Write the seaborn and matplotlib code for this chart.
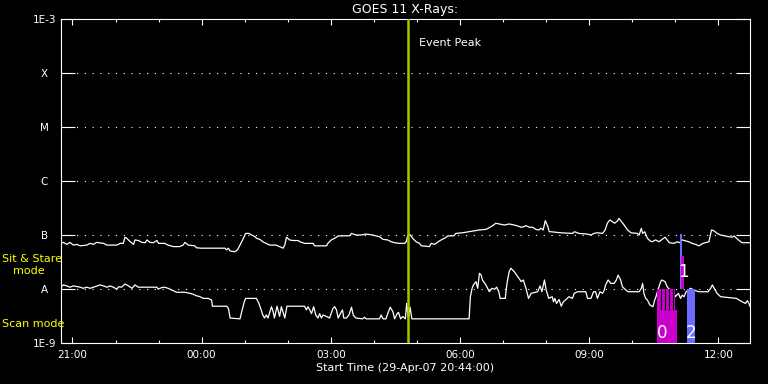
import numpy as np
import matplotlib
matplotlib.use("Agg")
import matplotlib.pyplot as plt
import seaborn as sns

# --- GOES 11 X-ray flux ---
# times are hours since 29-Apr-07 00:00, flux in units of 1e-8 W/m^2
t_long = [20.73, 20.79, 20.87, 20.94, 21.02, 21.10, 21.18, 21.33, 21.41, 21.49,
          21.56, 21.72, 21.80, 22.03, 22.11, 22.18, 22.22, 22.26, 22.34, 22.42,
          22.45, 22.53, 22.61, 22.69, 22.73, 22.80, 22.88, 22.96, 23.00, 23.14,
          23.22, 23.34, 23.49, 23.57, 23.61, 23.69, 23.84, 23.88, 23.99, 24.54,
          24.58, 24.62, 24.66, 24.77, 24.83, 24.89, 24.97, 25.02, 25.10, 25.16,
          25.24, 25.27, 25.35, 25.42, 25.50, 25.58, 25.73, 25.81, 25.89, 25.93,
          25.97, 26.04, 26.12, 26.24, 26.28, 26.39, 26.59, 26.62, 26.90, 26.93,
          27.01, 27.09, 27.17, 27.44, 27.48, 27.58, 27.70, 27.82, 27.97, 28.05,
          28.13, 28.21, 28.32, 28.40, 28.48, 28.59, 28.71, 28.75, 28.79, 28.83,
          28.90, 28.98, 29.06, 29.10, 29.29, 29.33, 29.41, 29.49, 29.56, 29.64,
          29.72, 29.86, 29.90, 30.06, 30.21, 30.33, 30.45, 30.60, 30.68, 30.76,
          30.83, 30.91, 31.03, 31.14, 31.26, 31.34, 31.42, 31.49, 31.53, 31.61,
          31.69, 31.76, 31.83, 31.88, 31.93, 31.98, 32.04, 32.07, 32.11, 32.34,
          32.61, 32.66, 32.76, 32.96, 33.04, 33.11, 33.19, 33.31, 33.37, 33.42,
          33.48, 33.54, 33.59, 33.66, 33.69, 33.75, 33.81, 33.89, 33.97, 34.12,
          34.16, 34.21, 34.24, 34.29, 34.35, 34.42, 34.46, 34.54, 34.62, 34.76,
          34.81, 34.86, 34.97, 35.04, 35.10, 35.16, 35.31, 35.39, 35.47, 35.55,
          35.64, 35.70, 35.78, 35.84, 35.90, 35.97, 36.05, 36.13, 36.24, 36.32,
          36.36, 36.42, 36.48, 36.55, 36.73]
long_flux = [7.0, 7.3, 6.7, 7.3, 6.5, 6.7, 6.3, 6.5, 7.0, 6.7,
             7.3, 7.0, 6.5, 6.5, 7.0, 7.0, 9.1, 8.7, 7.5, 6.7,
             8.1, 7.9, 7.3, 7.2, 8.1, 7.3, 7.2, 7.9, 7.0, 7.0,
             6.5, 6.1, 6.1, 6.5, 7.3, 6.5, 6.3, 5.8, 5.7, 5.7,
             5.3, 5.7, 5.05, 4.9, 5.3, 6.5, 8.7, 10.7, 10.7, 10.0,
             9.3, 8.7, 8.3, 7.5, 7.0, 6.5, 6.5, 6.1, 5.7, 6.5,
             9.1, 8.1, 7.9, 7.9, 7.5, 7.0, 7.0, 6.3, 6.3, 7.0,
             8.1, 8.7, 9.6, 9.7, 10.7, 10.0, 10.0, 10.4, 10.0, 9.6,
             9.3, 8.3, 8.1, 7.5, 7.2, 7.0, 7.0, 7.5, 10.0, 10.3,
             8.7, 7.5, 7.0, 6.3, 6.1, 7.0, 6.7, 7.5, 8.1, 8.7,
             9.6, 9.7, 10.7, 11.0, 11.5, 11.9, 12.4, 12.7, 13.7, 14.9,
             16.5, 16.0, 15.3, 16.0, 15.3, 14.7, 13.9, 14.3, 14.9, 13.9,
             13.9, 12.7, 12.4, 13.3, 12.4, 18.4, 14.3, 11.5, 11.5, 11.0,
             10.7, 11.5, 10.7, 10.4, 10.0, 10.7, 11.0, 10.7, 12.4, 16.5,
             19.0, 17.6, 16.5, 18.4, 20.3, 17.6, 15.3, 12.4, 11.0, 10.7,
             10.0, 13.3, 10.7, 11.5, 8.7, 7.7, 7.5, 8.1, 7.5, 9.1,
             8.1, 7.2, 7.0, 7.5, 7.2, 8.1, 7.5, 7.0, 6.7, 6.3,
             7.0, 7.2, 7.5, 12.4, 11.9, 10.7, 10.0, 9.7, 9.3, 9.1,
             9.6, 8.7, 7.9, 7.2, 7.2]

t_short = [20.73, 20.79, 20.87, 20.94, 21.02, 21.18, 21.25, 21.33, 21.41, 21.49,
           21.64, 21.72, 21.80, 21.87, 21.95, 22.03, 22.07, 22.14, 22.22, 22.30,
           22.38, 22.45, 22.53, 22.96, 22.99, 23.07, 23.14, 23.22, 23.30, 23.42,
           23.61, 23.73, 23.80, 23.88, 23.96, 24.04, 24.15, 24.23, 24.25, 24.58,
           24.62, 24.66, 24.89, 24.93, 24.99, 25.02, 25.24, 25.27, 25.33, 25.38,
           25.42, 25.46, 25.50, 25.54, 25.62, 25.66, 25.69, 25.75, 25.81, 25.85,
           25.93, 25.98, 26.39, 26.43, 26.47, 26.51, 26.55, 26.60, 26.65, 26.70,
           26.74, 26.78, 26.82, 26.90, 26.97, 27.05, 27.09, 27.13, 27.17, 27.22,
           27.27, 27.30, 27.36, 27.42, 27.48, 27.52, 27.58, 27.74, 27.78, 27.82,
           28.13, 28.17, 28.21, 28.28, 28.32, 28.38, 28.44, 28.48, 28.54, 28.57,
           28.62, 28.67, 28.73, 28.76, 28.80, 28.84, 28.88, 30.21, 30.24, 30.28,
           30.31, 30.37, 30.41, 30.45, 30.49, 30.52, 30.60, 30.64, 30.68, 30.74,
           30.80, 30.85, 30.90, 30.93, 31.05, 31.09, 31.14, 31.18, 31.26, 31.34,
           31.42, 31.47, 31.53, 31.59, 31.65, 31.80, 31.86, 31.90, 31.96, 32.00,
           32.06, 32.14, 32.17, 32.20, 32.24, 32.30, 32.35, 32.40, 32.49, 32.53,
           32.61, 32.65, 32.73, 32.92, 32.96, 33.04, 33.10, 33.15, 33.19, 33.25,
           33.31, 33.35, 33.38, 33.44, 33.50, 33.58, 33.63, 33.67, 33.73, 33.77,
           33.85, 33.90, 34.16, 34.21, 34.24, 34.27, 34.31, 34.35, 34.41, 34.48,
           34.52, 34.55, 34.60, 34.66, 34.69, 34.76, 34.81, 34.86, 34.94, 35.00,
           35.07, 35.12, 35.16, 35.20, 35.25, 35.35, 35.47, 35.55, 35.76, 35.82,
           35.86, 35.90, 35.97, 36.05, 36.42, 36.48, 36.55, 36.63, 36.67, 36.71,
           36.73]
short_flux = [1.08, 1.19, 1.14, 1.08, 1.14, 1.08, 1.03, 1.08, 1.03, 1.08,
              1.19, 1.14, 1.08, 1.14, 1.08, 0.99, 1.10, 1.08, 1.24, 1.14,
              1.03, 1.19, 1.08, 1.08, 1.0, 1.06, 1.08, 1.03, 0.96, 0.87,
              0.87, 0.83, 0.80, 0.75, 0.72, 0.67, 0.67, 0.625, 0.48, 0.48,
              0.44, 0.29, 0.28, 0.38, 0.58, 0.67, 0.67, 0.67, 0.54, 0.41,
              0.33, 0.29, 0.33, 0.29, 0.47, 0.38, 0.29, 0.48, 0.31, 0.47,
              0.29, 0.48, 0.48, 0.41, 0.47, 0.41, 0.35, 0.47, 0.33, 0.29,
              0.35, 0.29, 0.33, 0.31, 0.29, 0.44, 0.47, 0.41, 0.29, 0.35,
              0.41, 0.29, 0.29, 0.33, 0.46, 0.33, 0.29, 0.28, 0.30, 0.28,
              0.28, 0.33, 0.28, 0.28, 0.35, 0.46, 0.38, 0.28, 0.35, 0.37,
              0.28, 0.31, 0.28, 0.54, 0.28, 0.46, 0.28, 0.28, 0.72, 1.03,
              1.19, 1.37, 1.03, 1.95, 1.81, 1.47, 1.19, 1.03, 0.89, 1.03,
              0.99, 1.08, 0.89, 0.67, 0.67, 1.27, 2.09, 2.42, 2.09, 1.69,
              1.37, 1.47, 1.03, 0.67, 0.83, 0.89, 1.14, 0.89, 1.47, 0.96,
              0.67, 0.72, 0.58, 0.67, 0.54, 0.64, 0.48, 0.58, 0.67, 0.72,
              0.67, 0.83, 0.89, 0.89, 0.67, 0.67, 0.89, 0.89, 0.67, 0.89,
              0.83, 0.96, 1.19, 1.47, 1.27, 1.27, 1.47, 1.81, 1.47, 1.10,
              0.96, 0.89, 0.89, 1.03, 1.27, 0.83, 0.67, 0.625, 0.505, 0.47,
              0.625, 0.72, 0.99, 1.37, 1.47, 1.37, 1.10, 0.99, 0.96, 0.72,
              0.83, 0.67, 0.77, 0.72, 0.89, 1.03, 0.93, 0.89, 0.89, 1.03,
              1.19, 1.03, 0.83, 0.72, 0.67, 0.625, 0.58, 0.54, 0.61, 0.54,
              0.48]

t_start = 20 + 44 / 60
t_end = t_start + 16
event_peak = 28.78

tick_hours = [21, 24, 27, 30, 33, 36]
tick_labels = ["21:00", "00:00", "03:00", "06:00", "09:00", "12:00"]
flux_levels = [1e-9, 1e-8, 1e-7, 1e-6, 1e-5, 1e-4, 1e-3]
flux_labels = ["1E-9", "A", "B", "C", "M", "X", "1E-3"]

# event bars: start hour, width (hours), bottom and top flux, colour
ev_start = [34.57, 34.663, 34.756, 34.849, 34.942, 34.57, 35.105, 35.14, 35.27]
ev_width = [0.093, 0.093, 0.093, 0.093, 0.06, 0.465, 0.05, 0.07, 0.19]
ev_low = [4.1e-9, 4.1e-9, 4.1e-9, 4.1e-9, 4.1e-9, 1e-9, 1e-8, 1e-8, 1e-9]
ev_high = [1e-8, 1e-8, 1e-8, 1e-8, 1e-8, 4.1e-9, 1.04e-7, 4.1e-8, 1e-8]
ev_color = ["#cc00cc"] * 6 + ["#6b6bff", "#cc00cc", "#6b6bff"]
# event numbers and where they are written
ev_names = ["0", "1", "2"]
ev_name_t = [34.69, 35.19, 35.37]
ev_name_flux = [1.55e-9, 2.1e-8, 1.55e-9]

sns.set_theme(style="dark", rc={
    "figure.facecolor": "black", "axes.facecolor": "black",
    "axes.edgecolor": "white", "axes.linewidth": 0.8,
    "text.color": "white", "xtick.color": "white", "ytick.color": "white",
    "axes.labelcolor": "white", "axes.grid": False,
})
plt.rcParams["font.family"] = ["DejaVu Sans"]

fig = plt.figure(figsize=(7.68, 3.84), dpi=100)
ax = fig.add_axes([61 / 768, 41 / 384, 689 / 768, 324 / 384])
ax.set_yscale("log")

# class levels as dotted lines
for lev in flux_levels[1:-1]:
    ax.axhline(lev, color="white", lw=0.8, ls=(0, (1, 6)), zorder=1)

sns.lineplot(x=t_long, y=np.array(long_flux) * 1e-8, color="white", lw=0.9,
             estimator=None, sort=False, ax=ax, zorder=3)
sns.lineplot(x=t_short, y=np.array(short_flux) * 1e-8, color="white", lw=0.9,
             estimator=None, sort=False, ax=ax, zorder=3)

ax.bar(ev_start, np.array(ev_high) - np.array(ev_low), width=ev_width,
       bottom=ev_low, align="edge", color=ev_color, linewidth=0, zorder=4)
# thin black dividers between the overlapping sub-events of event 0
ax.vlines(ev_start[1:5], ev_low[1], ev_high[1], color="black", lw=0.8, zorder=4.5)
for name, tx, fy in zip(ev_names, ev_name_t, ev_name_flux):
    ax.text(tx, fy, name, color="white", fontsize=12, ha="center", va="center",
            zorder=5)

ax.axvline(event_peak, color="#a0c800", lw=1.8, zorder=5)
ax.text(event_peak + 0.27, 0.926, "Event Peak", transform=ax.get_xaxis_transform(),
        fontsize=8, color="white", ha="left", va="center")

ax.set_xlim(t_start, t_end)
ax.set_ylim(1e-9, 1e-3)
ax.set_xticks(tick_hours)
ax.set_xticklabels(tick_labels)
ax.set_xticks(range(21, 37), minor=True)
ax.set_yticks(flux_levels)
ax.set_yticklabels(flux_labels)
ax.set_yticks([], minor=True)
for lbl in ax.get_yticklabels():
    lbl.set_ha("center")

ax.tick_params(axis="x", which="major", direction="in", length=4.5, width=0.8,
               top=True, bottom=True, labelsize=7.5, pad=5)
ax.tick_params(axis="x", which="minor", direction="in", length=2, width=0.8,
               top=True, bottom=True)
ax.tick_params(axis="y", which="major", direction="in", length=10, width=0.8,
               left=True, right=True, labelsize=7.5, pad=12)

ax.set_xlabel("Start Time (29-Apr-07 20:44:00)", fontsize=8, labelpad=2)
ax.set_title("GOES 11 X-Rays:", fontsize=9, pad=4)

fig.text(2 / 768, 1 - 259 / 384, "Sit & Stare", color="yellow", fontsize=8,
         ha="left", va="center")
fig.text(13 / 768, 1 - 271 / 384, "mode", color="yellow", fontsize=8,
         ha="left", va="center")
fig.text(2 / 768, 1 - 324 / 384, "Scan mode", color="yellow", fontsize=8,
         ha="left", va="center")

plt.savefig("out.png", dpi=100, facecolor="black")
